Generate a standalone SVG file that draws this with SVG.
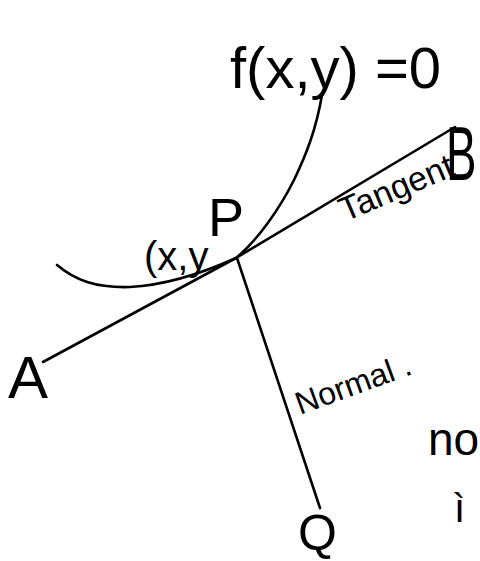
<svg xmlns="http://www.w3.org/2000/svg" width="480" height="561" viewBox="0 0 480 561">
<style>
.ln{fill:none;stroke:#000;stroke-width:2.6;stroke-linecap:round;stroke-linejoin:round}
.t{font-family:"Liberation Sans",Arial,sans-serif;fill:#000}
</style>
<rect width="480" height="561" fill="#fff"/>
<g id="connectors">
<path id="curve" class="ln" d="M57,265 C75,280 95,288 130,287 C168,285 205,272 236,258 C258,240 280,208 294,180 C306,155 316,130 322,95"/>
<path id="tangent" class="ln" d="M43,362 L236,258 L455,127"/>
<path id="normal" class="ln" d="M237,258 L320,508"/>
</g>
<g id="label-f">
<text class="t" x="230" y="88" font-size="58">f(x,y) =0</text>
</g>
<g id="label-xy">
<text class="t" x="144" y="270" font-size="40">(x,y</text>
</g>
<g id="label-P">
<text class="t" x="208" y="236" font-size="54">P</text>
</g>
<g id="label-A">
<text class="t" x="8" y="398" font-size="60">A</text>
</g>
<g id="label-B">
<text class="t" font-size="76" transform="translate(446,180) scale(0.6,1)">B</text>
</g>
<g id="label-tangent">
<text class="t" font-size="34" transform="translate(345,222) rotate(-23)">Tangent</text>
</g>
<g id="label-normal">
<text class="t" font-size="32" transform="translate(300,415) rotate(-20)">Normal .</text>
</g>
<g id="label-Q">
<text class="t" x="298" y="550" font-size="50">Q</text>
</g>
<g id="label-no">
<text class="t" x="428" y="455" font-size="46">no</text>
</g>
<g id="label-i">
<text class="t" x="454" y="522" font-size="40">ì</text>
</g>
</svg>
